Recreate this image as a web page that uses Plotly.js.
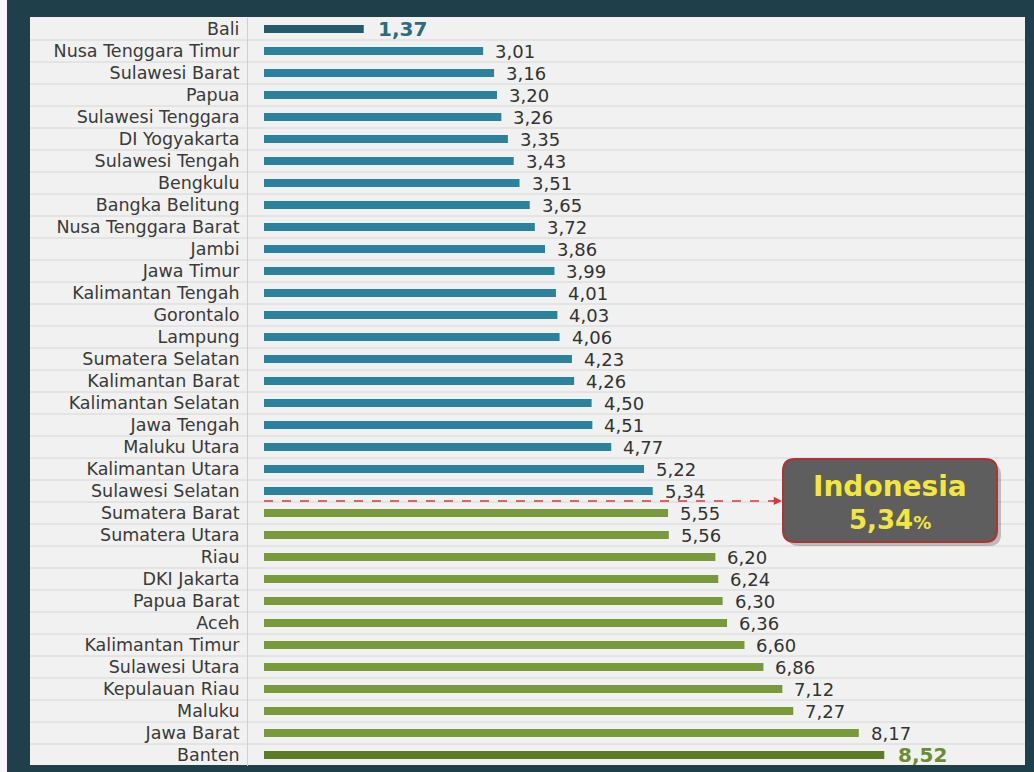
<!DOCTYPE html>
<html>
<head>
<meta charset="utf-8">
<script src="https://cdn.plot.ly/plotly-3.0.1.min.js"></script>
<style>html,body{margin:0;padding:0;background:#1f3f4a;}#chart{width:1034px;height:772px;}</style>
</head>
<body>
<div id="chart"></div>
<script>
// ---- data ----
const provinces = ['Bali','Nusa Tenggara Timur','Sulawesi Barat','Papua','Sulawesi Tenggara','DI Yogyakarta','Sulawesi Tengah','Bengkulu','Bangka Belitung','Nusa Tenggara Barat','Jambi','Jawa Timur','Kalimantan Tengah','Gorontalo','Lampung','Sumatera Selatan','Kalimantan Barat','Kalimantan Selatan','Jawa Tengah','Maluku Utara','Kalimantan Utara','Sulawesi Selatan','Sumatera Barat','Sumatera Utara','Riau','DKI Jakarta','Papua Barat','Aceh','Kalimantan Timur','Sulawesi Utara','Kepulauan Riau','Maluku','Jawa Barat','Banten'];
const values = [1.37,3.01,3.16,3.20,3.26,3.35,3.43,3.51,3.65,3.72,3.86,3.99,4.01,4.03,4.06,4.23,4.26,4.50,4.51,4.77,5.22,5.34,5.55,5.56,6.20,6.24,6.30,6.36,6.60,6.86,7.12,7.27,8.17,8.52];
const nationalLabel = 'Indonesia';
const nationalValue = 5.34;
const nationalRowAfter = 'Sulawesi Selatan';

// ---- styling ----
const FONT = 'DejaVu Sans, Arial, sans-serif';
const C_MIN = '#235b6c', C_LOW = '#2b829d', C_HIGH = '#789a3b', C_MAX = '#5b7b29';
const vmin = Math.min(...values), vmax = Math.max(...values);
const colors = values.map(v => v === vmin ? C_MIN : v === vmax ? C_MAX : (v <= nationalValue ? C_LOW : C_HIGH));
const fmt = v => v.toFixed(2).replace('.', ',');

// plot-area geometry (pixels)
const W = 1034, H = 772, L = 248, R = 9, T = 18, B = 6;
const PW = W - L - R, PH = H - T - B;
const XR = [-0.2198, 10.453];
const px = x => (x - L) / PW;
const py = y => 1 - (y - T) / PH;
const xAt = p => ((p - L) / PW) * (XR[1] - XR[0]) + XR[0];

const trace = {
  type: 'bar', orientation: 'h',
  y: provinces, x: values,
  marker: {color: colors},
  width: 0.37,
  hoverinfo: 'skip'
};

const annotations = values.map((v, i) => {
  const special = (v === vmin || v === vmax);
  return {
    x: v, y: provinces[i], xref: 'x', yref: 'y',
    text: special ? '<b>' + fmt(v) + '</b>' : fmt(v),
    showarrow: false, xanchor: 'left', yanchor: 'middle', xshift: special ? 12 : 10,
    font: {family: FONT, size: special ? 20 : 18, color: v === vmin ? '#2b6c82' : v === vmax ? '#6b8c33' : '#333333'}
  };
});

const shapes = [];
// white strip on far left and light panel
shapes.push({type: 'rect', xref: 'paper', yref: 'paper', x0: px(0), x1: px(7), y0: py(H + 5), y1: py(-5), fillcolor: '#f7f5fb', line: {width: 0}, layer: 'below'});
shapes.push({type: 'rect', xref: 'paper', yref: 'paper', x0: px(30), x1: px(1025), y0: py(765), y1: py(17), fillcolor: '#f1f1f1', line: {width: 0}, layer: 'below'});
// row separators
for (let i = 0; i < provinces.length - 1; i++) {
  shapes.push({type: 'line', xref: 'paper', yref: 'y', x0: px(30), x1: px(1025), y0: i + 0.5, y1: i + 0.5, line: {color: '#d6d6d6', width: 1}, layer: 'below'});
}
// national reference dashed line
const rowIdx = provinces.indexOf(nationalRowAfter) + 0.45;
const boxL = 783, boxR = 997, boxT = 459, boxB = 542, rad = 12;
shapes.push({type: 'line', xref: 'x', yref: 'y', x0: 0, x1: xAt(boxL - 6), y0: rowIdx, y1: rowIdx, line: {color: '#d23b3b', width: 1.5, dash: 'dash'}, layer: 'above'});

function roundRect(x0, y0, x1, y1, r) {
  const X = v => px(v), Y = v => py(v);
  return `M ${X(x0 + r)},${Y(y0)} L ${X(x1 - r)},${Y(y0)} Q ${X(x1)},${Y(y0)} ${X(x1)},${Y(y0 + r)} ` +
         `L ${X(x1)},${Y(y1 - r)} Q ${X(x1)},${Y(y1)} ${X(x1 - r)},${Y(y1)} ` +
         `L ${X(x0 + r)},${Y(y1)} Q ${X(x0)},${Y(y1)} ${X(x0)},${Y(y1 - r)} ` +
         `L ${X(x0)},${Y(y0 + r)} Q ${X(x0)},${Y(y0)} ${X(x0 + r)},${Y(y0)} Z`;
}
// shadow + callout box
shapes.push({type: 'path', xref: 'paper', yref: 'paper', path: roundRect(boxL + 4, boxT + 4, boxR + 4, boxB + 4, rad), fillcolor: 'rgba(0,0,0,0.22)', line: {width: 0}, layer: 'above'});
shapes.push({type: 'path', xref: 'paper', yref: 'paper', path: roundRect(boxL, boxT, boxR, boxB, rad), fillcolor: '#5e5e5e', line: {color: '#b3322f', width: 2}, layer: 'above'});

// arrow head
annotations.push({x: xAt(boxL - 1), y: rowIdx, xref: 'x', yref: 'y', ax: xAt(boxL - 12), ay: rowIdx, axref: 'x', ayref: 'y', text: '', showarrow: true, arrowhead: 2, arrowsize: 1.1, arrowwidth: 1.5, arrowcolor: '#d23b3b'});
// callout text
annotations.push({x: px((boxL + boxR) / 2), y: py(487), xref: 'paper', yref: 'paper', text: '<b>' + nationalLabel + '</b>', showarrow: false, xanchor: 'center', yanchor: 'middle', font: {family: FONT, size: 28, color: '#f3e63c'}});
annotations.push({x: px((boxL + boxR) / 2), y: py(520), xref: 'paper', yref: 'paper', text: '<b>' + fmt(nationalValue) + '<span style="font-size:18px">%</span></b>', showarrow: false, xanchor: 'center', yanchor: 'middle', font: {family: FONT, size: 26, color: '#f3e63c'}});

const layout = {
  width: W, height: H,
  margin: {l: L, r: R, t: T, b: B, pad: 0},
  paper_bgcolor: '#1f3f4a',
  plot_bgcolor: 'rgba(0,0,0,0)',
  showlegend: false,
  xaxis: {range: XR, showgrid: false, zeroline: false, showticklabels: false, ticks: '', fixedrange: true},
  yaxis: {type: 'category', range: [provinces.length - 0.5, -0.5], showgrid: false, zeroline: false,
          showline: true, linecolor: '#cfcfcf', linewidth: 1, ticks: '', ticklabelstandoff: 4,
          tickfont: {family: FONT, size: 17.5, color: '#3a3a3a'}, fixedrange: true},
  shapes: shapes,
  annotations: annotations,
  font: {family: FONT}
};

Plotly.newPlot('chart', [trace], layout, {displayModeBar: false, staticPlot: true});
</script>
</body>
</html>
